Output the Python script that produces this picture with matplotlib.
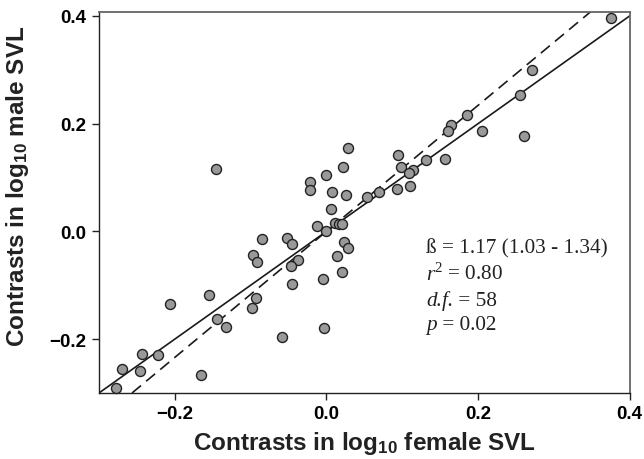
import matplotlib
matplotlib.use("Agg")
import matplotlib.pyplot as plt
from matplotlib.offsetbox import TextArea, HPacker, VPacker, AnchoredOffsetbox

# independent contrasts
female_contrast = [-0.146, 0.028, 0.022, -0.001, -0.022, -0.021, 0.007, 0.026, 0.054, 0.069,
                   0.006, -0.012, -0.001, 0.011, 0.016, 0.021, -0.085, -0.052, -0.046, 0.023,
                   0.029, -0.097, -0.092, -0.038, -0.047, 0.014, 0.020, -0.005, -0.045, -0.093,
                   -0.098, -0.003, -0.058, -0.206, -0.155, -0.144, -0.133, -0.243, -0.222, -0.269,
                   -0.246, -0.165, -0.278, 0.255, 0.260, 0.205, 0.186, 0.165, 0.161, 0.156,
                   0.132, 0.094, 0.098, 0.114, 0.109, 0.093, 0.110, 0.375, 0.271]
male_contrast = [0.115, 0.154, 0.120, 0.105, 0.091, 0.077, 0.073, 0.067, 0.063, 0.074,
                 0.041, 0.010, 0.001, 0.016, 0.013, 0.013, -0.014, -0.012, -0.023, -0.020,
                 -0.031, -0.043, -0.056, -0.054, -0.064, -0.046, -0.076, -0.089, -0.097, -0.123,
                 -0.142, -0.179, -0.196, -0.134, -0.118, -0.163, -0.178, -0.228, -0.230, -0.255,
                 -0.260, -0.266, -0.291, 0.254, 0.178, 0.187, 0.217, 0.197, 0.187, 0.134,
                 0.133, 0.141, 0.119, 0.114, 0.108, 0.078, 0.084, 0.397, 0.299]

fit_slope = 1.17
isometry_slope = 1.0

# (italic part, upright part) for each line of the stats box
stats_lines = [("", "ß = 1.17 (1.03 - 1.34)"),
               ("r", "$^2$ = 0.80"),
               ("d.f.", " = 58"),
               ("p", " = 0.02")]
ticks = [-0.2, 0.0, 0.2, 0.4]

plt.rcParams["mathtext.fontset"] = "custom"
plt.rcParams["mathtext.rm"] = "Liberation Serif"
plt.rcParams["mathtext.it"] = "Liberation Serif:italic"
plt.rcParams["mathtext.bf"] = "Liberation Sans:bold"

fig = plt.figure(figsize=(6.44, 4.6), dpi=100)
ax = fig.add_axes([0.1537, 0.1435, 0.824, 0.829])

ax.axline((0, 0), slope=isometry_slope, color="#1a1a1a", linewidth=1.2, zorder=2)
ax.axline((0, 0), slope=fit_slope, color="#1a1a1a", linewidth=1.2,
          linestyle=(0, (7, 4)), zorder=2)
ax.scatter(female_contrast, male_contrast, s=52, facecolor="#999999",
           edgecolor="#222222", linewidth=1.0, zorder=3, clip_on=False)

ax.set_xlim(-0.3, 0.4)
ax.set_ylim(-0.3, 0.408)
ax.set_xticks(ticks)
ax.set_yticks(ticks)
ax.set_xticklabels([f"{t:.1f}".replace("-", "\u2212") for t in ticks])
ax.set_yticklabels([f"{t:.1f}".replace("-", "\u2212") for t in ticks])

for lab in ax.get_xticklabels() + ax.get_yticklabels():
    lab.set_fontfamily("Liberation Sans")
    lab.set_fontweight("bold")
    lab.set_fontsize(13.5)

ax.tick_params(axis="both", direction="out", length=5, width=1.0, color="#222222", pad=4)
ax.tick_params(top=False, right=False)
for side in ["left", "bottom"]:
    ax.spines[side].set_color("#222222")
    ax.spines[side].set_linewidth(1.0)
for side in ["top", "right"]:
    ax.spines[side].set_color("#666666")
    ax.spines[side].set_linewidth(1.3)

ax.set_xlabel(r"Contrasts in log$_{\mathbf{10}}$ female SVL", fontfamily="Liberation Sans",
              fontweight="bold", fontsize=17.5, color="#222222")
ax.set_ylabel(r"Contrasts in log$_{\mathbf{10}}$ male SVL", fontfamily="Liberation Sans",
              fontweight="bold", fontsize=17.5, color="#222222")
ax.xaxis.set_label_coords(0.5, -0.095)
ax.yaxis.set_label_coords(-0.128, 0.545)

rows = []
for italic_part, upright_part in stats_lines:
    parts = []
    if italic_part:
        parts.append(TextArea(italic_part, textprops=dict(fontfamily="Liberation Serif",
                                                          fontstyle="italic", fontsize=15.3,
                                                          color="#222222")))
    parts.append(TextArea(upright_part, textprops=dict(fontfamily="Liberation Serif",
                                                       fontsize=15.3, color="#222222")))
    rows.append(HPacker(children=parts, align="baseline", pad=0, sep=0))
box = VPacker(children=rows, align="left", pad=0, sep=4)
anchored = AnchoredOffsetbox(loc="upper left", child=box, pad=0, borderpad=0, frameon=False,
                             bbox_to_anchor=(426, 460 - 239), bbox_transform=None)
ax.add_artist(anchored)

fig.savefig("out.png", dpi=100)
